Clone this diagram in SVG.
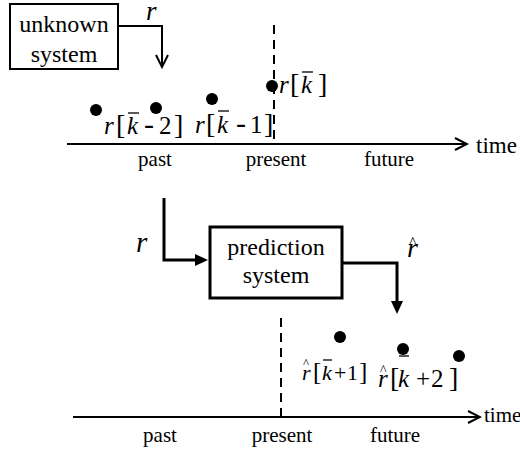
<svg xmlns="http://www.w3.org/2000/svg" width="520" height="450" viewBox="0 0 520 450">
  <defs>
    <style>
      .wire { fill: none; stroke: #000000; }
      .dash { fill: none; stroke: #000000; stroke-width: 2; stroke-dasharray: 9 6; }
      .bar { stroke: #000000; stroke-width: 1.3; }
      .dot { fill: #000000; }
    </style>
    <!-- open chevron head for the thin lines -->
    <marker id="open" viewBox="-14 -8 16 16" markerWidth="16" markerHeight="16" refX="0" refY="0" markerUnits="userSpaceOnUse" orient="auto">
      <path d="M-12,-6 L0,0 L-12,6" fill="none" stroke="#000000" stroke-width="2"/>
    </marker>
    <!-- solid head for the thick lines; line ends at the head's base -->
    <marker id="solid" viewBox="0 -8 16 16" markerWidth="16" markerHeight="16" refX="0" refY="0" markerUnits="userSpaceOnUse" orient="auto">
      <path d="M0,-6 L13,0 L0,6 Z" fill="#000000"/>
    </marker>
  </defs>

  <!-- connectors -->
  <g id="connectors">
    <path class="wire" stroke-width="2" d="M118,26 H162 V67" marker-end="url(#open)"/>
    <path class="wire" stroke-width="3" d="M164,198 V260 H195" marker-end="url(#solid)"/>
    <path class="wire" stroke-width="3" d="M342,263 H397 V301" marker-end="url(#solid)"/>
  </g>

  <!-- upper time axis -->
  <g id="axis-top">
    <line class="wire" stroke-width="2" x1="67" y1="144" x2="467" y2="144" marker-end="url(#open)"/>
    <line class="dash" x1="274" y1="25" x2="274" y2="144"/>
    <text font-family="Liberation Serif" x="476" y="153" font-size="23">time</text>
    <text font-family="Liberation Serif" x="155" y="166" font-size="21" text-anchor="middle">past</text>
    <text font-family="Liberation Serif" x="276" y="166" font-size="21" text-anchor="middle">present</text>
    <text font-family="Liberation Serif" x="389" y="166" font-size="21" text-anchor="middle">future</text>
  </g>

  <!-- lower time axis -->
  <g id="axis-bottom">
    <line class="wire" stroke-width="2" x1="73" y1="417" x2="480" y2="417" marker-end="url(#open)"/>
    <line class="dash" x1="281" y1="318" x2="281" y2="417"/>
    <text font-family="Liberation Serif" x="484" y="422" font-size="21">time</text>
    <text font-family="Liberation Serif" x="160" y="442" font-size="21" text-anchor="middle">past</text>
    <text font-family="Liberation Serif" x="282" y="442" font-size="21" text-anchor="middle">present</text>
    <text font-family="Liberation Serif" x="395" y="442" font-size="21" text-anchor="middle">future</text>
  </g>

  <!-- blocks -->
  <g id="unknown-system">
    <rect x="10" y="4" width="108" height="65" fill="#ffffff" stroke="#000000" stroke-width="2"/>
    <text font-family="Liberation Serif" x="64" y="32" font-size="24" text-anchor="middle">unknown</text>
    <text font-family="Liberation Serif" x="64" y="62" font-size="24" text-anchor="middle">system</text>
  </g>
  <g id="prediction-system">
    <rect x="210" y="227" width="132" height="71" fill="#ffffff" stroke="#000000" stroke-width="3"/>
    <text font-family="Liberation Serif" x="276" y="255" font-size="24" text-anchor="middle">prediction</text>
    <text font-family="Liberation Serif" x="276" y="283" font-size="24" text-anchor="middle">system</text>
  </g>

  <!-- signal names on the wires -->
  <g id="signal-labels">
    <text font-family="Liberation Serif" font-style="italic" x="146" y="20" font-size="27">r</text>
    <text font-family="Liberation Serif" font-style="italic" x="136" y="252" font-size="29">r</text>
    <text font-family="Liberation Serif" font-style="italic" x="407" y="257" font-size="28">r</text>
    <text font-family="Liberation Serif" x="409" y="248" font-size="16">^</text>
  </g>

  <!-- observed samples -->
  <g id="samples-past">
    <circle class="dot" cx="96" cy="110" r="6"/>
    <circle class="dot" cx="156" cy="108" r="6"/>
    <circle class="dot" cx="212" cy="99" r="6"/>
    <circle class="dot" cx="272" cy="86" r="6"/>

    <text font-family="Liberation Serif" font-size="25" y="134"><tspan font-style="italic" x="104">r</tspan><tspan x="116" font-size="28">[</tspan><tspan font-style="italic" x="127">k</tspan><tspan x="144" font-size="30">-</tspan><tspan x="159">2</tspan><tspan x="174" font-size="28">]</tspan></text>
    <line class="bar" x1="128" y1="113" x2="139" y2="113"/>

    <text font-family="Liberation Serif" font-size="25" y="133"><tspan font-style="italic" x="195">r</tspan><tspan x="206" font-size="28">[</tspan><tspan font-style="italic" x="217">k</tspan><tspan x="236" font-size="30">-</tspan><tspan x="250">1</tspan><tspan x="264" font-size="28">]</tspan></text>
    <line class="bar" x1="218" y1="111" x2="229" y2="111"/>

    <text font-family="Liberation Serif" font-size="25" y="93"><tspan font-style="italic" x="279">r</tspan><tspan x="290" font-size="28">[</tspan><tspan font-style="italic" x="301">k</tspan><tspan x="318" font-size="28">]</tspan></text>
    <line class="bar" x1="302" y1="72" x2="313" y2="72"/>
  </g>

  <!-- predicted samples -->
  <g id="samples-future">
    <circle class="dot" cx="340" cy="337" r="6"/>
    <circle class="dot" cx="403" cy="349" r="6"/>
    <circle class="dot" cx="459" cy="356" r="6"/>

    <text font-family="Liberation Serif" font-size="22" y="380"><tspan font-style="italic" x="302">r</tspan><tspan x="313" font-size="25">[</tspan><tspan font-style="italic" x="322">k</tspan><tspan x="334">+</tspan><tspan x="347">1</tspan><tspan x="359" font-size="25">]</tspan></text>
    <text font-family="Liberation Serif" font-size="13" x="303" y="367">^</text>
    <line class="bar" x1="323" y1="360" x2="332" y2="360"/>

    <text font-family="Liberation Serif" font-size="25" y="387"><tspan font-style="italic" x="378">r</tspan><tspan x="390" font-size="28">[</tspan><tspan font-style="italic" x="398">k</tspan><tspan x="416">+</tspan><tspan x="431">2</tspan><tspan x="449" font-size="28">]</tspan></text>
    <text font-family="Liberation Serif" font-size="14" x="380" y="375">^</text>
    <line class="bar" x1="399" y1="356" x2="409" y2="356"/>
  </g>
</svg>
